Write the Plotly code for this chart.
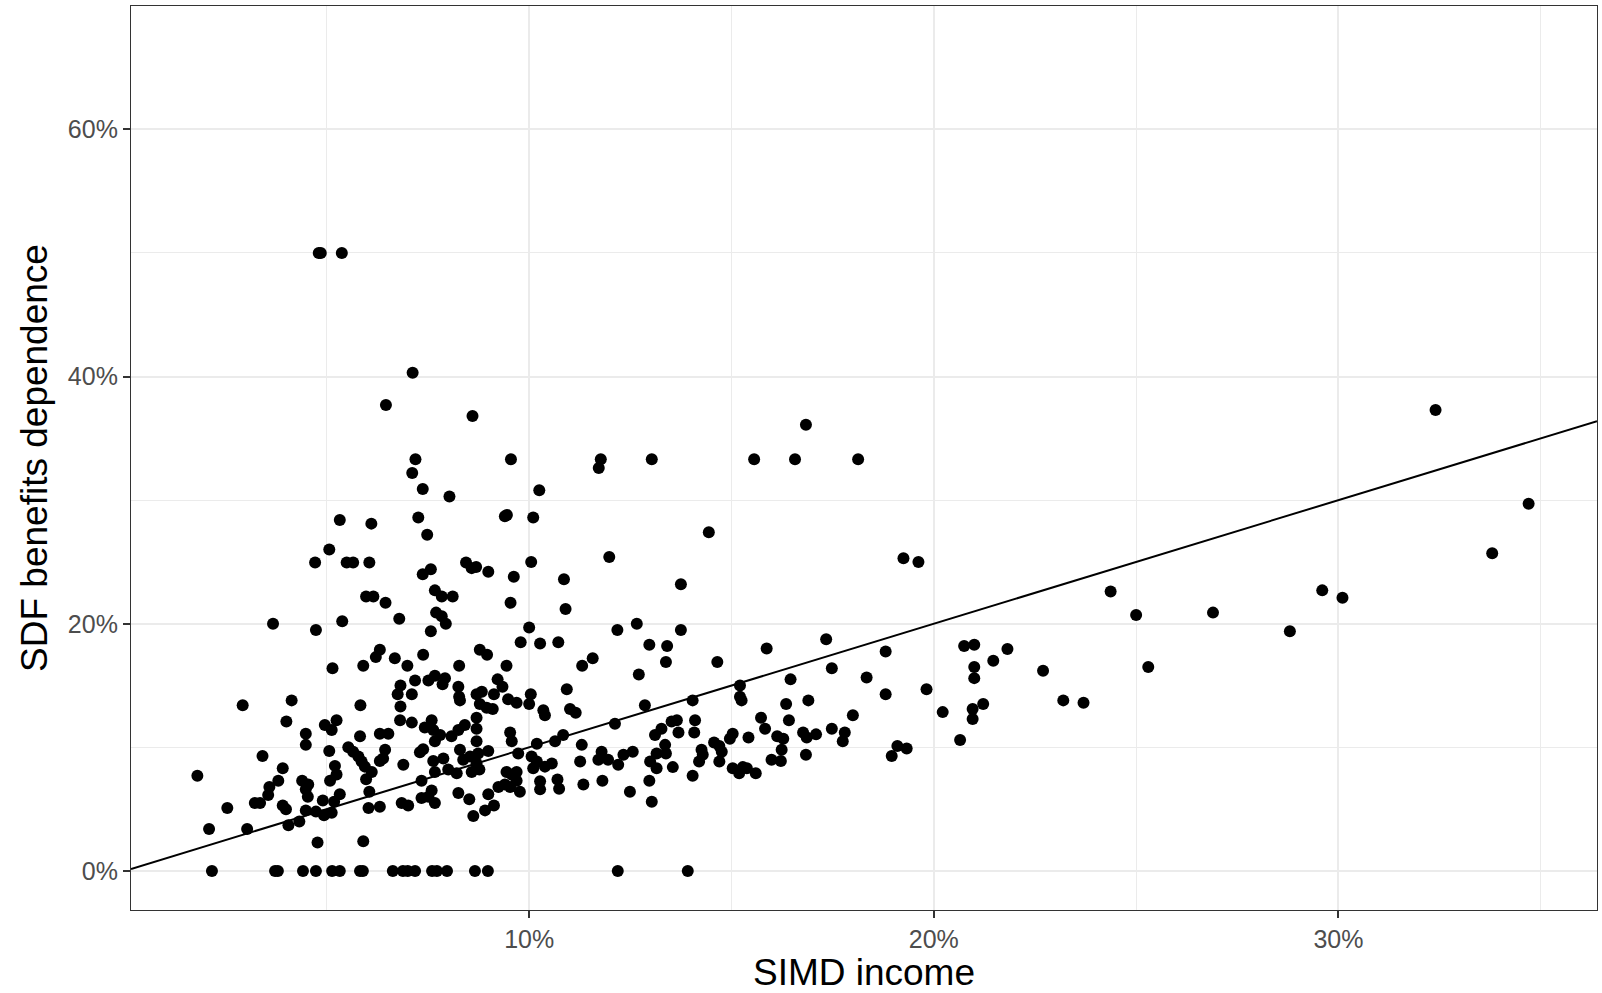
import plotly.graph_objects as go

# SIMD income (%) and SDF benefits dependence (%)
simd_income = [
    2.16, 3.72, 3.79, 4.41, 4.73, 5.13, 5.32, 5.82, 5.89, 6.63, 6.88, 7.00, 7.18, 7.60, 7.72, 7.97, 8.66, 8.98, 12.19, 13.92,
    4.80, 4.85, 5.37, 7.12, 6.46, 8.60, 16.84, 32.4, 34.7, 33.8,
    7.19, 7.11, 7.37, 8.03, 9.55, 10.25, 6.10, 7.26, 7.48, 9.40, 9.45, 10.10, 5.32, 5.06,
    11.77, 11.72, 13.03, 14.44,
    15.56, 16.57, 18.13, 19.25, 19.62,
    4.71, 5.49, 5.65, 6.05, 5.97, 3.67, 4.73, 5.38, 5.14, 5.90, 2.92, 4.13, 5.83,
    7.37, 7.57, 8.44, 8.58, 8.69, 8.99, 10.05, 9.62, 6.15, 6.45, 7.67, 7.84, 8.11, 9.54, 6.79, 7.70, 7.84, 7.94,
    7.57, 10.00, 9.79, 10.27, 10.72, 6.31, 6.21, 6.68, 6.99, 7.38, 8.27, 8.78, 8.96, 9.44, 6.82, 6.75, 7.10,
    7.18, 7.51, 7.67, 7.92, 7.86, 8.25, 8.27, 8.29, 8.70, 8.83, 8.78, 8.95, 9.10, 9.13, 9.22, 9.34, 9.48, 9.69,
    10.00, 10.04, 10.35, 10.39, 6.82, 8.70,
    11.98, 10.86, 13.75, 10.90, 12.18, 12.66, 13.75, 12.97, 13.41, 13.38, 14.65, 11.31, 11.57, 12.71, 10.93,
    11.01, 11.15, 12.86, 14.04, 15.21, 15.21, 15.25,
    4.00, 4.48, 4.48, 4.95, 5.12, 5.24, 5.82, 5.06, 5.53, 5.65, 5.78, 5.86, 5.94, 5.97, 6.05, 6.03, 3.41, 1.80,
    3.91, 3.80, 3.58, 3.55, 3.22, 3.35, 2.54, 3.91, 3.99, 4.39, 4.54, 4.48, 4.53, 5.20, 5.24, 5.08, 5.32, 5.18,
    4.90, 4.48, 4.73, 4.93, 5.12, 4.05, 4.32, 2.09, 3.03, 4.77, 5.90,
    6.31, 6.52, 6.44, 6.39, 6.31, 6.11, 6.31, 6.89, 6.85, 7.01, 6.81, 7.10, 7.59, 7.42, 7.63, 7.80, 7.67, 8.08,
    8.25, 8.41, 8.70, 7.30, 7.38, 7.63, 7.88, 7.67, 8.00, 8.21, 8.29, 8.37, 8.54, 8.58, 8.70, 8.70, 8.74, 8.99,
    8.77, 7.34, 7.59, 7.34, 7.51, 7.67, 8.25, 8.52, 8.62, 8.91, 9.13, 8.99, 9.24, 9.44, 9.57, 9.69, 9.40, 9.53,
    9.77, 9.69, 9.53, 9.57, 9.73, 10.06, 10.19, 10.10, 10.19, 10.39, 10.56, 10.64, 10.27, 10.27, 10.70, 10.74,
    10.84, 12.12, 11.30, 11.26, 11.34, 11.79, 11.71, 11.95, 12.20, 12.33, 12.56, 11.81, 12.49, 13.11, 13.27,
    13.52, 13.65, 13.69, 14.08, 14.10, 13.15, 13.36, 13.38, 12.99, 13.15, 13.55, 12.97, 13.03, 14.04, 14.26,
    14.29, 14.20, 14.57, 14.70, 14.70, 14.76, 14.96, 15.03, 15.42, 15.03, 15.19, 15.28, 15.38,
    15.87, 17.34, 18.81, 20.75, 21.00, 21.82, 16.46, 17.48, 18.34, 18.81, 19.82, 21.00, 21.00, 21.47, 16.35,
    16.90, 16.42, 15.73, 15.83, 18.00, 17.48, 17.80, 17.75, 16.13, 16.28, 16.24, 15.99, 16.22, 16.84, 16.77,
    16.86, 17.09, 20.22, 20.96, 20.96, 21.22, 20.65, 18.96, 19.10, 19.33, 15.60,
    22.7, 23.2, 23.7, 24.37, 25.0, 25.3, 26.9, 28.8, 29.6, 30.1,
]

sdf_dependence = [
    0, 0, 0, 0, 0, 0, 0, 0, 0, 0, 0, 0, 0, 0, 0, 0, 0, 0, 0, 0,
    50.0, 50.0, 50.0, 40.3, 37.7, 36.8, 36.1, 37.3, 29.7, 25.7,
    33.3, 32.2, 30.9, 30.3, 33.3, 30.8, 28.1, 28.6, 27.2, 28.7, 28.8, 28.6, 28.4, 26.0,
    33.3, 32.6, 33.3, 27.4,
    33.3, 33.3, 33.3, 25.3, 25.0,
    24.95, 24.95, 24.95, 24.95, 22.2, 20.0, 19.5, 20.2, 16.4, 16.6, 13.4, 13.8, 13.4,
    24.0, 24.4, 24.95, 24.5, 24.6, 24.2, 25.0, 23.8, 22.2, 21.7, 22.7, 22.2, 22.2, 21.7, 20.4, 20.9, 20.6, 20.0,
    19.4, 19.7, 18.5, 18.4, 18.5, 17.9, 17.3, 17.2, 16.6, 17.5, 16.6, 17.9, 17.5, 16.6, 15.0, 14.3, 14.3,
    15.4, 15.4, 15.8, 15.6, 15.1, 14.9, 14.1, 13.8, 14.3, 14.5, 13.5, 13.2, 13.1, 14.3, 15.5, 14.9, 13.9, 13.6,
    13.5, 14.3, 13.0, 12.6, 13.3, 12.4,
    25.4, 23.6, 23.2, 21.2, 19.5, 20.0, 19.5, 18.3, 18.2, 16.9, 16.9, 16.6, 17.2, 15.9, 14.7,
    13.1, 12.8, 13.4, 13.8, 15.0, 14.1, 13.8,
    12.1, 11.1, 10.2, 11.8, 11.4, 12.2, 10.9, 9.7, 10.0, 9.65, 9.25, 8.85, 8.44, 7.42, 6.4, 5.1, 9.3, 7.7,
    8.3, 7.3, 6.8, 6.15, 5.5, 5.5, 5.1, 5.3, 5.0, 7.3, 7.0, 6.6, 6.0, 8.5, 7.8, 7.3, 6.2, 5.6,
    5.7, 4.9, 4.8, 4.5, 4.7, 3.7, 4.0, 3.4, 3.4, 2.3, 2.4,
    11.1, 11.1, 9.8, 9.1, 8.9, 8.0, 5.2, 8.6, 5.5, 5.3, 12.2, 12.0, 12.2, 11.6, 11.4, 11.0, 10.5, 10.9,
    11.4, 11.8, 11.5, 9.6, 9.85, 8.9, 9.1, 8.0, 8.2, 7.9, 9.8, 9.0, 9.25, 8.0, 8.7, 10.5, 9.5, 9.7,
    8.2, 7.3, 6.5, 5.9, 6.0, 5.5, 6.3, 5.8, 4.45, 4.9, 5.3, 6.2, 6.8, 8.0, 7.8, 7.3, 7.0, 6.8,
    6.4, 8.0, 11.2, 10.5, 9.5, 9.25, 8.85, 8.3, 10.3, 8.44, 8.7, 10.5, 7.25, 6.6, 7.4, 6.65,
    11.0, 11.9, 10.2, 8.85, 7.0, 9.65, 9.0, 9.0, 8.6, 9.4, 9.65, 7.3, 6.4, 11.0, 11.5,
    12.1, 12.2, 11.2, 11.2, 12.2, 9.5, 10.2, 9.5, 8.85, 8.3, 8.4, 7.3, 5.6, 7.7, 9.8,
    9.4, 8.85, 10.4, 10.1, 8.85, 9.65, 10.7, 11.1, 10.8, 8.3, 7.9, 8.4, 8.3,
    18.0, 18.75, 17.75, 18.2, 18.3, 17.95, 15.5, 16.4, 15.65, 14.3, 14.7, 16.5, 15.6, 17.0, 13.5,
    13.8, 12.2, 12.4, 11.5, 12.6, 11.5, 11.2, 10.5, 10.9, 10.7, 9.8, 9.0, 8.9, 9.4, 11.2,
    10.8, 11.05, 12.85, 13.1, 12.3, 13.5, 10.6, 9.3, 10.1, 9.9, 7.9,
    16.2, 13.8, 13.6, 22.6, 20.7, 16.5, 20.9, 19.4, 22.7, 22.1,
]

# reference line y = x
abline_slope = 1.0
abline_intercept = 0.0

x_range = [0.16, 36.39]
y_range = [-3.16, 69.98]

x_ticks = [10, 20, 30]
x_tick_labels = ["10%", "20%", "30%"]
y_ticks = [0, 20, 40, 60]
y_tick_labels = ["0%", "20%", "40%", "60%"]

FONT = "Liberation Sans, Arial, Helvetica, sans-serif"

fig = go.Figure()
fig.add_trace(go.Scatter(
    x=simd_income, y=sdf_dependence, mode="markers",
    marker=dict(color="black", size=12, line=dict(width=0)),
    showlegend=False, hoverinfo="x+y",
))
line_x = list(x_range)
line_y = [abline_slope * v + abline_intercept for v in line_x]
fig.add_trace(go.Scatter(
    x=line_x, y=line_y, mode="lines",
    line=dict(color="black", width=2),
    showlegend=False, hoverinfo="skip",
))

axis_common = dict(
    showline=True, mirror=True, linecolor="#333333", linewidth=1.2,
    ticks="outside", ticklen=7, tickwidth=1.5, tickcolor="#333333",
    gridcolor="#EBEBEB", gridwidth=2, zeroline=False,
    tickfont=dict(family=FONT, size=25, color="#4D4D4D"),
)

fig.update_xaxes(
    range=x_range, tickmode="array", tickvals=x_ticks, ticktext=x_tick_labels,
    minor=dict(dtick=5, tick0=0, showgrid=True, gridcolor="#EBEBEB", gridwidth=1, ticks=""),
    title=dict(text="SIMD income", font=dict(family=FONT, size=37, color="black"), standoff=6),
    **axis_common,
)
fig.update_yaxes(
    range=y_range, tickmode="array", tickvals=y_ticks, ticktext=y_tick_labels,
    minor=dict(dtick=10, tick0=0, showgrid=True, gridcolor="#EBEBEB", gridwidth=1, ticks=""),
    title=dict(text="SDF benefits dependence", font=dict(family=FONT, size=37, color="black"), standoff=8),
    **axis_common,
)

fig.update_layout(
    width=1602, height=993,
    margin=dict(l=131, r=5, t=6, b=83, autoexpand=False),
    plot_bgcolor="white", paper_bgcolor="white",
    font=dict(family=FONT),
)

fig.write_html("out.html")
